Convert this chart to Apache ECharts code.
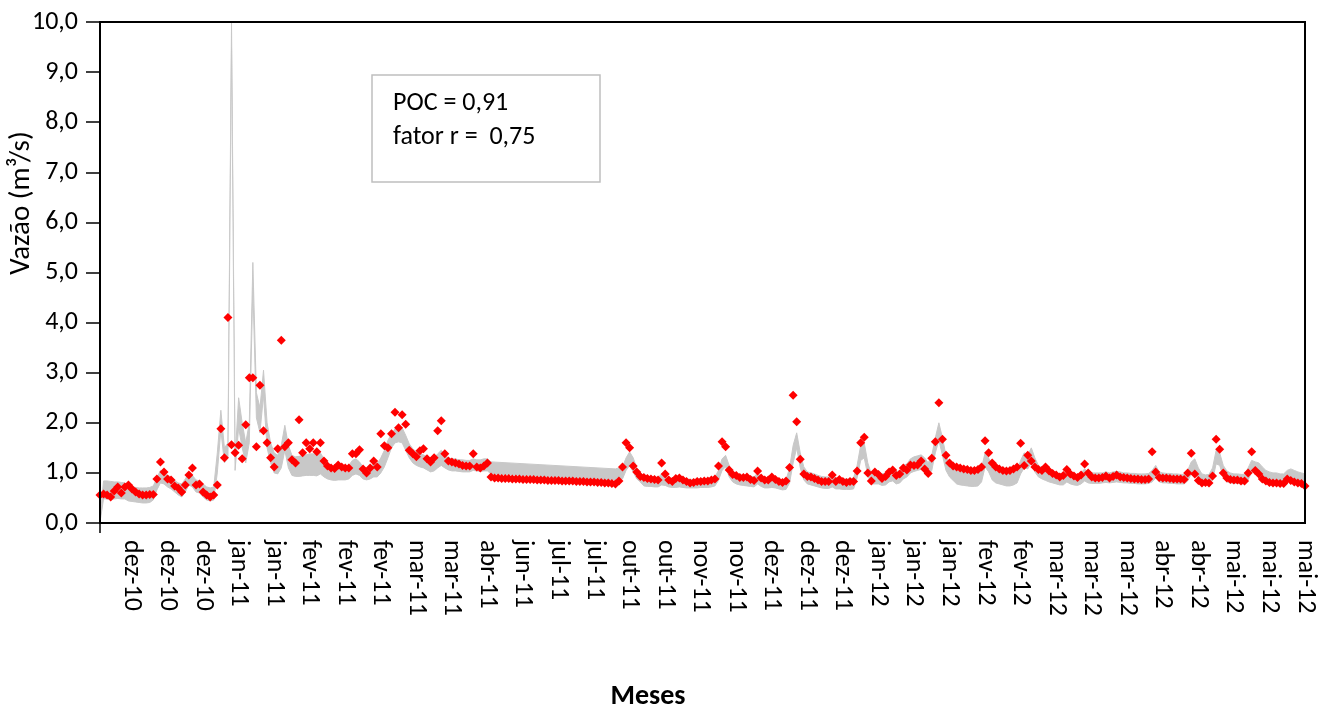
<!DOCTYPE html>
<html>
<head>
<meta charset="utf-8">
<title>Vazão diária</title>
<script src="https://cdn.jsdelivr.net/npm/echarts@6/dist/echarts.min.js"></script>
<style>
  html, body { margin: 0; padding: 0; background: #fff; }
  #chart { width: 1330px; height: 711px; }
</style>
</head>
<body>
<div id="chart"></div>
<script>
// Month labels written under every 10th day of the series
const tickLabels = [
  'dez-10','dez-10','dez-10','jan-11','jan-11','fev-11','fev-11','fev-11','mar-11','mar-11',
  'abr-11','jun-11','jul-11','jul-11','out-11','out-11','nov-11','nov-11','dez-11','dez-11',
  'dez-11','jan-12','jan-12','jan-12','fev-12','fev-12','mar-12','mar-12','mar-12','abr-12',
  'abr-12','mai-12','mai-12','mai-12'
];

// Observed daily discharge (m³/s)
const observed = [
  0.56,0.58,0.56,0.52,0.64,0.72,0.60,0.72,0.76,0.68,
  0.62,0.58,0.56,0.56,0.57,0.57,0.88,1.22,1.02,0.88,
  0.86,0.74,0.70,0.62,0.76,0.96,1.10,0.76,0.78,0.62,
  0.56,0.52,0.56,0.76,1.88,1.30,4.10,1.56,1.40,1.55,
  1.28,1.96,2.90,2.90,1.52,2.75,1.84,1.60,1.30,1.12,
  1.48,3.65,1.52,1.60,1.26,1.20,2.06,1.40,1.60,1.48,
  1.60,1.42,1.60,1.24,1.14,1.10,1.09,1.16,1.12,1.10,
  1.10,1.38,1.38,1.46,1.08,1.00,1.10,1.24,1.12,1.78,
  1.54,1.50,1.78,2.21,1.90,2.16,1.97,1.45,1.38,1.32,
  1.44,1.48,1.28,1.22,1.30,1.84,2.04,1.38,1.24,1.22,
  1.20,1.18,1.15,1.14,1.14,1.38,1.12,1.10,1.14,1.20,
  0.92,0.90,0.90,0.89,0.89,0.89,0.88,0.88,0.88,0.87,
  0.87,0.87,0.87,0.86,0.86,0.86,0.85,0.85,0.85,0.85,
  0.84,0.84,0.84,0.84,0.83,0.83,0.83,0.82,0.82,0.82,
  0.81,0.81,0.80,0.80,0.79,0.78,0.84,1.12,1.60,1.50,
  1.14,1.02,0.93,0.91,0.89,0.88,0.87,0.86,1.20,0.98,
  0.86,0.83,0.89,0.90,0.86,0.83,0.80,0.81,0.83,0.83,
  0.84,0.84,0.86,0.88,1.14,1.62,1.52,1.06,0.97,0.95,
  0.91,0.91,0.92,0.87,0.85,1.04,0.90,0.86,0.86,0.92,
  0.87,0.83,0.81,0.84,1.11,2.55,2.02,1.27,0.98,0.93,
  0.92,0.89,0.86,0.83,0.83,0.83,0.96,0.83,0.87,0.83,
  0.81,0.83,0.83,1.04,1.60,1.71,1.00,0.84,1.02,0.97,
  0.89,0.93,1.02,1.06,0.95,0.98,1.10,1.06,1.16,1.15,
  1.16,1.24,1.08,0.99,1.29,1.62,2.40,1.67,1.35,1.20,
  1.14,1.12,1.10,1.08,1.07,1.05,1.05,1.07,1.12,1.64,
  1.40,1.20,1.12,1.08,1.05,1.04,1.05,1.08,1.12,1.59,
  1.15,1.35,1.24,1.12,1.07,1.05,1.12,1.04,0.99,0.96,
  0.92,0.95,1.07,0.98,0.94,0.91,0.96,1.18,1.00,0.92,
  0.90,0.90,0.91,0.94,0.90,0.93,0.96,0.92,0.91,0.90,
  0.89,0.88,0.88,0.87,0.87,0.88,1.42,1.02,0.91,0.90,
  0.90,0.89,0.88,0.88,0.88,0.87,1.00,1.39,0.98,0.85,
  0.80,0.81,0.80,0.94,1.67,1.47,1.00,0.90,0.87,0.86,
  0.86,0.84,0.84,1.00,1.42,1.05,0.98,0.88,0.84,0.81,
  0.80,0.80,0.79,0.79,0.88,0.85,0.82,0.80,0.79,0.74
];

// Simulated band, upper limit (null where no simulation exists)
const bandHigh = [
  0.10,0.84,0.84,0.83,0.82,0.82,0.81,0.80,0.74,0.72,
  0.71,0.70,0.70,0.70,0.71,0.74,0.90,1.05,1.00,0.95,
  0.92,0.85,0.80,0.78,0.88,1.00,0.95,0.86,0.84,0.78,
  0.72,0.70,0.72,1.40,2.25,1.50,1.60,10.0,1.30,2.50,
  2.00,1.60,2.00,5.20,2.60,2.30,3.05,2.00,1.60,1.40,
  1.35,1.55,1.95,1.55,1.35,1.32,1.33,1.35,1.36,1.38,
  1.38,1.36,1.40,1.28,1.20,1.14,1.12,1.14,1.12,1.12,
  1.15,1.25,1.28,1.22,1.12,1.08,1.12,1.20,1.18,1.30,
  1.45,1.65,1.78,1.88,1.92,1.90,1.75,1.58,1.48,1.42,
  1.38,1.36,1.32,1.28,1.30,1.38,1.45,1.36,1.30,1.28,
  1.28,1.26,1.26,1.25,1.25,1.28,1.26,1.26,1.28,1.28,
  1.22,null,null,null,null,null,null,null,null,null,
  null,null,null,null,null,null,null,null,null,null,
  null,null,null,null,null,null,null,null,null,null,
  null,null,null,null,null,1.08,1.10,1.12,1.30,1.42,
  1.30,1.10,1.00,0.94,0.93,0.92,0.92,0.91,0.98,0.96,
  0.90,0.88,0.89,0.90,0.89,0.88,0.87,0.87,0.88,0.88,
  0.88,0.89,0.90,0.92,1.05,1.28,1.35,1.15,1.02,0.98,
  0.96,0.95,0.95,0.93,0.92,1.00,0.93,0.90,0.90,0.92,
  0.90,0.87,0.85,0.86,1.10,1.55,1.80,1.40,1.12,1.02,
  1.00,0.98,0.95,0.93,0.92,0.92,0.96,0.90,0.90,0.88,
  0.88,0.88,0.90,1.15,1.55,1.60,1.20,0.98,1.00,1.02,
  0.98,1.00,1.08,1.10,1.02,1.05,1.15,1.18,1.28,1.32,
  1.34,1.36,1.30,1.20,1.35,1.70,2.00,1.70,1.35,1.20,
  1.10,1.05,1.03,1.02,1.00,1.00,1.00,1.02,1.10,1.40,
  1.30,1.12,1.05,1.02,1.00,0.98,0.98,1.00,1.05,1.25,
  1.40,1.35,1.50,1.30,1.15,1.10,1.08,1.05,1.02,1.00,
  0.98,0.97,1.05,1.00,0.98,0.96,1.00,1.08,1.02,1.00,
  1.00,1.00,1.00,1.02,1.00,1.02,1.03,1.02,1.00,1.00,
  0.99,0.99,0.98,0.98,0.98,0.99,1.05,1.15,1.02,1.00,
  0.99,0.99,0.98,0.98,0.97,0.97,1.05,1.22,1.28,1.10,
  0.98,0.96,0.97,1.10,1.45,1.40,1.15,1.04,1.00,0.98,
  0.98,0.97,0.97,1.10,1.25,1.22,1.20,1.12,1.05,1.02,
  1.00,1.00,0.98,0.98,1.05,1.08,1.05,1.02,1.00,0.98
];

// Simulated band, lower limit
const bandLow = [
  0.02,0.48,0.48,0.47,0.48,0.49,0.48,0.48,0.44,0.43,
  0.42,0.41,0.40,0.40,0.41,0.46,0.66,0.80,0.78,0.72,
  0.68,0.62,0.56,0.52,0.62,0.76,0.72,0.62,0.60,0.52,
  0.46,0.44,0.46,1.00,1.85,1.20,1.30,9.50,1.05,1.90,
  1.50,1.20,1.60,4.70,2.10,1.80,2.55,1.50,1.20,1.00,
  0.98,1.10,1.45,1.10,0.95,0.93,0.93,0.94,0.95,0.95,
  0.95,0.94,0.98,0.92,0.88,0.86,0.85,0.86,0.86,0.86,
  0.88,0.95,0.98,0.95,0.88,0.86,0.88,0.92,0.92,1.00,
  1.12,1.30,1.50,1.60,1.62,1.60,1.45,1.30,1.20,1.15,
  1.12,1.10,1.06,1.02,1.04,1.10,1.15,1.10,1.06,1.04,
  1.04,1.03,1.02,1.02,1.02,1.05,1.04,1.03,1.04,1.04,
  0.98,null,null,null,null,null,null,null,null,null,
  null,null,null,null,null,null,null,null,null,null,
  null,null,null,null,null,null,null,null,null,null,
  null,null,null,null,null,0.86,0.86,0.88,1.05,1.15,
  1.02,0.88,0.82,0.74,0.73,0.73,0.72,0.72,0.76,0.75,
  0.72,0.71,0.71,0.72,0.71,0.70,0.70,0.70,0.70,0.71,
  0.71,0.71,0.72,0.74,0.85,1.05,1.12,0.92,0.82,0.78,
  0.76,0.75,0.74,0.73,0.72,0.78,0.73,0.70,0.70,0.71,
  0.70,0.68,0.66,0.67,0.80,1.20,1.50,1.10,0.86,0.78,
  0.76,0.74,0.72,0.70,0.69,0.69,0.72,0.68,0.68,0.67,
  0.67,0.67,0.68,0.90,1.25,1.30,0.95,0.78,0.78,0.78,
  0.75,0.76,0.82,0.84,0.78,0.80,0.88,0.92,1.00,1.03,
  1.05,1.07,1.02,0.95,1.05,1.40,1.65,1.35,1.05,0.92,
  0.85,0.78,0.76,0.75,0.74,0.73,0.73,0.74,0.82,1.12,
  1.02,0.86,0.80,0.78,0.76,0.74,0.74,0.76,0.80,0.98,
  1.10,1.08,1.20,1.02,0.92,0.88,0.85,0.82,0.80,0.78,
  0.76,0.76,0.82,0.78,0.76,0.75,0.78,0.84,0.80,0.79,
  0.79,0.79,0.80,0.81,0.80,0.81,0.82,0.81,0.80,0.80,
  0.79,0.79,0.78,0.78,0.78,0.79,0.82,0.90,0.82,0.80,
  0.80,0.79,0.79,0.78,0.78,0.78,0.84,0.98,1.02,0.86,
  0.78,0.76,0.76,0.86,1.18,1.15,0.92,0.82,0.80,0.79,
  0.79,0.78,0.78,0.86,1.02,1.00,0.98,0.90,0.84,0.82,
  0.80,0.80,0.79,0.79,0.84,0.86,0.84,0.82,0.80,0.78
];

const LABEL_EVERY = 10;
const LABEL_OFFSET = 9;
const days = observed.map((_, i) => i);

const FONT = 'Carlito, Lato, sans-serif';
const FONT_SIZE = 26;
const BAND_GREY = '#c8c8c8';

const chart = echarts.init(document.getElementById('chart'), null, { renderer: 'canvas' });

chart.setOption({
  animation: false,
  backgroundColor: '#ffffff',
  grid: {
    left: 100, right: 25, top: 22, bottom: 188,
    show: true, borderColor: '#000', borderWidth: 2,
    backgroundColor: 'transparent', z: 6
  },
  xAxis: {
    type: 'category',
    data: days,
    boundaryGap: false,
    z: 7,
    axisLine: { lineStyle: { color: '#000', width: 2 } },
    axisTick: {
      show: true, length: 10,
      interval: (i) => i === 0,
      lineStyle: { color: '#000', width: 1.5 }
    },
    axisLabel: {
      rotate: -90,
      margin: 17,
      interval: (i) => i >= LABEL_OFFSET && (i - LABEL_OFFSET) % LABEL_EVERY === 0,
      formatter: (v, i) => tickLabels[(i - LABEL_OFFSET) / LABEL_EVERY] || '',
      color: '#000', fontFamily: FONT, fontSize: FONT_SIZE
    },
    splitLine: { show: false }
  },
  yAxis: {
    type: 'value',
    min: 0, max: 10, interval: 1,
    z: 7,
    axisLine: { show: true, lineStyle: { color: '#000', width: 2 } },
    axisTick: { show: true, length: 14, lineStyle: { color: '#000', width: 1.5 } },
    axisLabel: {
      margin: 22,
      formatter: (v) => v.toFixed(1).replace('.', ','),
      color: '#000', fontFamily: FONT, fontSize: FONT_SIZE
    },
    splitLine: { show: false }
  },
  series: [
    {
      name: 'limite superior',
      type: 'line',
      data: bandHigh,
      connectNulls: true,
      symbol: 'none',
      z: 1,
      lineStyle: { color: BAND_GREY, width: 1 },
      areaStyle: { color: BAND_GREY, opacity: 1 }
    },
    {
      name: 'limite inferior',
      type: 'line',
      data: bandLow,
      connectNulls: true,
      symbol: 'none',
      z: 2,
      lineStyle: { color: BAND_GREY, width: 1 },
      areaStyle: { color: '#ffffff', opacity: 1 }
    },
    {
      name: 'observado',
      type: 'scatter',
      data: observed,
      symbol: 'diamond',
      symbolSize: 9,
      z: 3,
      itemStyle: { color: '#ff0000', opacity: 1 }
    }
  ],
  graphic: [
    {
      type: 'text',
      x: 22, y: 203,
      rotation: Math.PI / 2,
      style: {
        text: 'Vazão (m³/s)',
        font: '29px ' + FONT,
        fill: '#000',
        align: 'center',
        verticalAlign: 'middle'
      }
    },
    {
      type: 'text',
      x: 648, y: 697,
      style: {
        text: 'Meses',
        font: 'bold 28px ' + FONT,
        fill: '#000',
        align: 'center',
        verticalAlign: 'middle'
      }
    },
    {
      type: 'group',
      z: 10,
      children: [
        {
          type: 'rect',
          shape: { x: 372, y: 75, width: 228, height: 107 },
          style: { fill: '#ffffff', stroke: '#bfbfbf', lineWidth: 1.5 }
        },
        {
          type: 'text',
          x: 393, y: 103,
          style: { text: 'POC = 0,91', font: FONT_SIZE + 'px ' + FONT, fill: '#000', verticalAlign: 'middle' }
        },
        {
          type: 'text',
          x: 393, y: 137,
          style: { text: 'fator r =  0,75', font: FONT_SIZE + 'px ' + FONT, fill: '#000', verticalAlign: 'middle' }
        }
      ]
    }
  ]
});
</script>
</body>
</html>
